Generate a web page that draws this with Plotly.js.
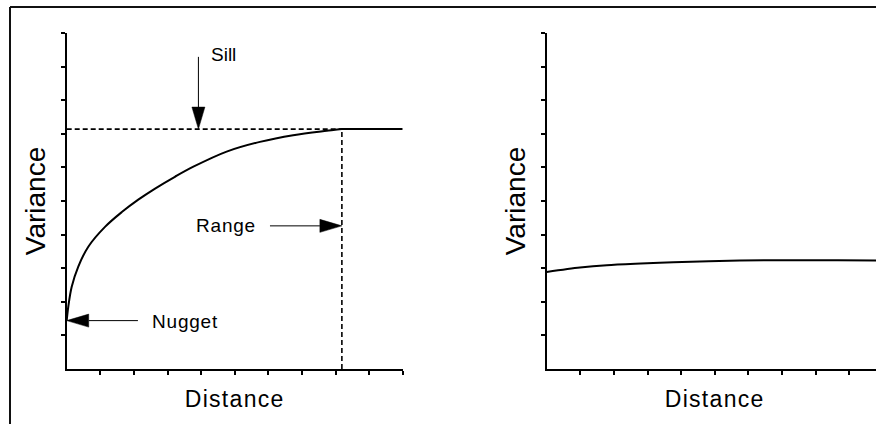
<!DOCTYPE html>
<html><head><meta charset="utf-8">
<script src="https://cdn.plot.ly/plotly-3.0.1.min.js"></script>
<style>
html,body{margin:0;padding:0;overflow:hidden;background:#fff;width:876px;height:424px}
#chart{width:900px;height:440px}
</style>
</head><body><div id="chart"></div>
<script>
// ---- data ----
const leftDistance = [0, 0.048, 0.149, 0.345, 0.643, 1.14, 1.64, 2.13, 2.63, 3.22, 3.77, 4.76, 5.75, 6.74, 7.74, 8.19, 9, 10];
const leftVariance = [1.44, 1.86, 2.45, 3.05, 3.64, 4.23, 4.67, 5.04, 5.37, 5.72, 6.02, 6.47, 6.76, 6.96, 7.09, 7.14, 7.14, 7.14];
const rightDistance = [0, 0.99, 1.79, 2.8, 3.77, 5.75, 7.74, 9.8, 10];
const rightVariance = [2.89, 3.02, 3.09, 3.14, 3.18, 3.23, 3.24, 3.23, 3.22];
const nugget = 1.44;
const sill = 7.14;
const rangeDist = 8.19;
const tickVals = [1, 2, 3, 4, 5, 6, 7, 8, 9, 10];
const axisRange = [0, 10];
const labelTexts = ['Sill', 'Range', 'Nugget'];
const labelX = [4.68, 4.75, 3.51];
const labelY = [9.35, 4.28, 1.40];
// arrows: tail -> tip (data units)
const arrowTailX = [3.92, 6.05, 2.12];
const arrowTailY = [9.29, 4.26, nugget];
const arrowTipX = [3.92, rangeDist, 0];
const arrowTipY = [sill, 4.26, nugget];

const W = 900, H = 440;
const xDom = [66.7 / W, 402.7 / W];
const x2Dom = [546.7 / W, 882.7 / W];
const yDom = [(H - 369) / H, (H - 33) / H];
const pxPerX = (xDom[1] - xDom[0]) * W / (axisRange[1] - axisRange[0]);
const pxPerY = (yDom[1] - yDom[0]) * H / (axisRange[1] - axisRange[0]);

const font = 'Arial, "Liberation Sans", Helvetica, sans-serif';

const traces = [
  {x: leftDistance, y: leftVariance, xaxis: 'x', yaxis: 'y', mode: 'lines',
   line: {color: '#000', width: 2, shape: 'spline', smoothing: 1}, hoverinfo: 'skip'},
  {x: rightDistance, y: rightVariance, xaxis: 'x2', yaxis: 'y2', mode: 'lines',
   line: {color: '#000', width: 2, shape: 'spline', smoothing: 0.8}, hoverinfo: 'skip'}
];

const shapes = [
  // outer frame (left and top edges; the rest is cut off in the reference)
  {type: 'line', xref: 'paper', yref: 'paper', x0: 10 / W, x1: 10 / W, y0: 0, y1: 1 - 7 / H,
   line: {color: '#111', width: 2}},
  {type: 'line', xref: 'paper', yref: 'paper', x0: 10 / W, x1: 1, y0: 1 - 7 / H, y1: 1 - 7 / H,
   line: {color: '#111', width: 2}},
  // sill and range guides
  {type: 'line', xref: 'x', yref: 'y', x0: 0, x1: rangeDist, y0: sill, y1: sill,
   line: {color: '#000', width: 1.6, dash: '5px,3px'}},
  {type: 'line', xref: 'x', yref: 'y', x0: rangeDist, x1: rangeDist, y0: 0, y1: sill,
   line: {color: '#000', width: 1.6, dash: '5px,3px'}}
];

const headLen = 22, headWid = 13;
for (let i = 0; i < arrowTipX.length; i++) {
  const dxp = (arrowTipX[i] - arrowTailX[i]) * pxPerX;
  const dyp = (arrowTipY[i] - arrowTailY[i]) * pxPerY;
  const len = Math.hypot(dxp, dyp);
  const ux = dxp / len, uy = dyp / len;
  const bx = arrowTipX[i] - ux * headLen / pxPerX;
  const by = arrowTipY[i] - uy * headLen / pxPerY;
  const px = -uy, py = ux;
  const c1x = bx + px * headWid / 2 / pxPerX, c1y = by + py * headWid / 2 / pxPerY;
  const c2x = bx - px * headWid / 2 / pxPerX, c2y = by - py * headWid / 2 / pxPerY;
  shapes.push({type: 'line', xref: 'x', yref: 'y', x0: arrowTailX[i], y0: arrowTailY[i], x1: bx, y1: by,
    line: {color: '#000', width: 1}});
  shapes.push({type: 'path', xref: 'x', yref: 'y',
    path: `M${arrowTipX[i]},${arrowTipY[i]} L${c1x},${c1y} L${c2x},${c2y} Z`,
    fillcolor: '#000', line: {color: '#000', width: 0.5}});
}

const annotations = labelTexts.map((t, i) => ({
  xref: 'x', yref: 'y', x: labelX[i], y: labelY[i], showarrow: false,
  text: t === 'Sill' ? t : `<span style="letter-spacing:0.8px">${t}</span>`,
  font: {family: font, size: 19, color: '#000'}, xanchor: 'center', yanchor: 'middle'
}));

function xAx(dom, anchor) {
  return {domain: dom, anchor: anchor, range: axisRange, showgrid: false, zeroline: false,
    showline: true, linecolor: '#000', linewidth: 2, ticks: 'outside', ticklen: 4, tickwidth: 2,
    tickcolor: '#000', tickvals: tickVals, showticklabels: false, fixedrange: true,
    title: {text: '<span style="letter-spacing:1.3px">Distance</span>', font: {family: font, size: 23, color: '#000'}, standoff: 17}};
}
function yAx(anchor) {
  return {domain: yDom, anchor: anchor, range: axisRange, showgrid: false, zeroline: false,
    showline: true, linecolor: '#000', linewidth: 2, ticks: 'outside', ticklen: 4, tickwidth: 2,
    tickcolor: '#000', tickvals: tickVals, showticklabels: false, fixedrange: true,
    title: {text: 'Variance', font: {family: font, size: 28, color: '#000'}, standoff: 7}};
}

const layout = {
  width: W, height: H, margin: {l: 0, r: 0, t: 0, b: 0},
  paper_bgcolor: '#fff', plot_bgcolor: '#fff', showlegend: false,
  xaxis: xAx(xDom, 'y'), yaxis: yAx('x'),
  xaxis2: xAx(x2Dom, 'y2'), yaxis2: yAx('x2'),
  shapes: shapes, annotations: annotations
};

Plotly.newPlot('chart', traces, layout, {staticPlot: true, displayModeBar: false});
</script>
</body></html>
